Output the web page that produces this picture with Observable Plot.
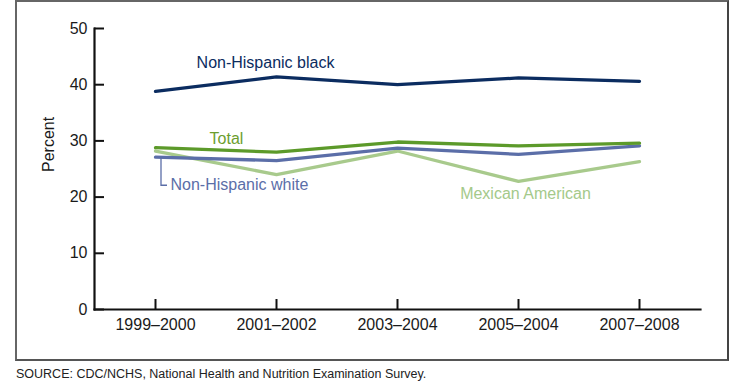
<!DOCTYPE html>
<html>
<head>
<meta charset="utf-8">
<script src="https://cdn.jsdelivr.net/npm/d3@7"></script>
<script src="https://cdn.jsdelivr.net/npm/@observablehq/plot@0.6"></script>
<style>
  html, body { margin: 0; padding: 0; background: #fff; }
  #wrap { position: relative; width: 744px; height: 387px; overflow: hidden; font-family: "Liberation Sans", Arial, sans-serif; }
  #box { position: absolute; left: 15px; top: 0px; width: 714px; height: 361px; box-sizing: border-box; border: 2px solid #666; border-right-color: #444; border-bottom-color: #555; }
  #chart { position: absolute; left: 0; top: 0; }
  #source { position: absolute; left: 16px; top: 367px; font-size: 12.5px; color: #222; white-space: nowrap; }
</style>
</head>
<body>
<div id="wrap">
  <div id="box"></div>
  <div id="chart"></div>
  <div id="source">SOURCE: CDC/NCHS, National Health and Nutrition Examination Survey.</div>
</div>
<script>
const periods = ["1999–2000", "2001–2002", "2003–2004", "2005–2004", "2007–2008"];
const nhBlack = [38.8, 41.4, 40.0, 41.2, 40.6];
const total = [28.8, 28.0, 29.8, 29.1, 29.6];
const nhWhite = [27.1, 26.5, 28.7, 27.6, 29.1];
const mexican = [28.2, 24.0, 28.2, 22.8, 26.3];
const yTicks = [0, 10, 20, 30, 40, 50];

const seriesNames = ["Mexican American", "Non-Hispanic white", "Total", "Non-Hispanic black"];
const seriesValues = [mexican, nhWhite, total, nhBlack];
const seriesColors = ["#a8ca8c", "#5b6ea8", "#5c9a2a", "#0b2c60"];

// label anchors (category, value) for direct labels
const labelNames = ["Non-Hispanic black", "Total", "Non-Hispanic white", "Mexican American"];
const labelCats = ["2001–2002", "2001–2002", "1999–2000", "2005–2004"];
const labelVals = [43.8, 30.3, 22.2, 20.5];
const labelColors = ["#0b2c60", "#6c9e2e", "#5b6ea8", "#a4c98a"];
const labelShift = [-11, -50, 15, 7];

const rows = [];
seriesNames.forEach((s, i) => periods.forEach((p, j) => rows.push({series: s, period: p, value: seriesValues[i][j]})));
const labels = labelNames.map((n, i) => ({name: n, period: labelCats[i], value: labelVals[i], color: labelColors[i]}));

const W = 744, H = 362, ML = 94, MR = 44, MT = 28, MB = 53;
const plotW = W - ML - MR, plotH = H - MT - MB;

const labelMarks = labels.map((d, i) => Plot.text([d], {
  x: "period", y: "value", text: "name", fill: "color", fontSize: 16,
  textAnchor: d.name === "Non-Hispanic white" ? "start" : "middle",
  dx: labelShift[i]
}));

const chart = Plot.plot({
  width: W, height: H,
  marginLeft: ML, marginRight: MR, marginTop: MT, marginBottom: MB,
  x: {type: "point", domain: periods, padding: 0.5},
  y: {domain: [0, 50]},
  color: {domain: seriesNames, range: seriesColors},
  style: {fontFamily: "'Liberation Sans', Arial, sans-serif", fontSize: "16px", color: "#1a1a1a", background: "transparent", overflow: "visible"},
  marks: [
    Plot.axisY(yTicks, {tickSize: 0, tickPadding: 7, fontSize: 16, label: null}),
    Plot.axisX({tickSize: 0, tickPadding: 9, fontSize: 16, label: null}),
    Plot.tickY(yTicks, {y: d => d, insetRight: plotW - 10, stroke: "#111", strokeWidth: 2}),
    Plot.tickX(periods, {x: d => d, insetTop: plotH - 10, stroke: "#111", strokeWidth: 2}),
    Plot.frame({anchor: "left", stroke: "#111", strokeWidth: 2.2}),
    Plot.frame({anchor: "bottom", stroke: "#111", strokeWidth: 2.2}),
    Plot.text(["Percent"], {frameAnchor: "left", rotate: -90, dx: -46, dy: 3, fontSize: 16, fill: "#1a1a1a"}),
    Plot.line(rows, {x: "period", y: "value", z: "series", stroke: "series", strokeWidth: 3.3, strokeLinejoin: "miter"}),
    (index, scales) => {
      const x0 = scales.x(periods[0]) + 6;
      const y0 = scales.y(nhWhite[0]) + 1;
      const y1 = scales.y(labelVals[2]) + 1;
      const path = document.createElementNS("http://www.w3.org/2000/svg", "path");
      path.setAttribute("d", `M${x0},${y0}V${y1}H${x0 + 6}`);
      path.setAttribute("fill", "none");
      path.setAttribute("stroke", "#5b6ea8");
      path.setAttribute("stroke-width", "1.3");
      return path;
    },
    ...labelMarks
  ]
});
document.getElementById("chart").appendChild(chart);
</script>
</body>
</html>
